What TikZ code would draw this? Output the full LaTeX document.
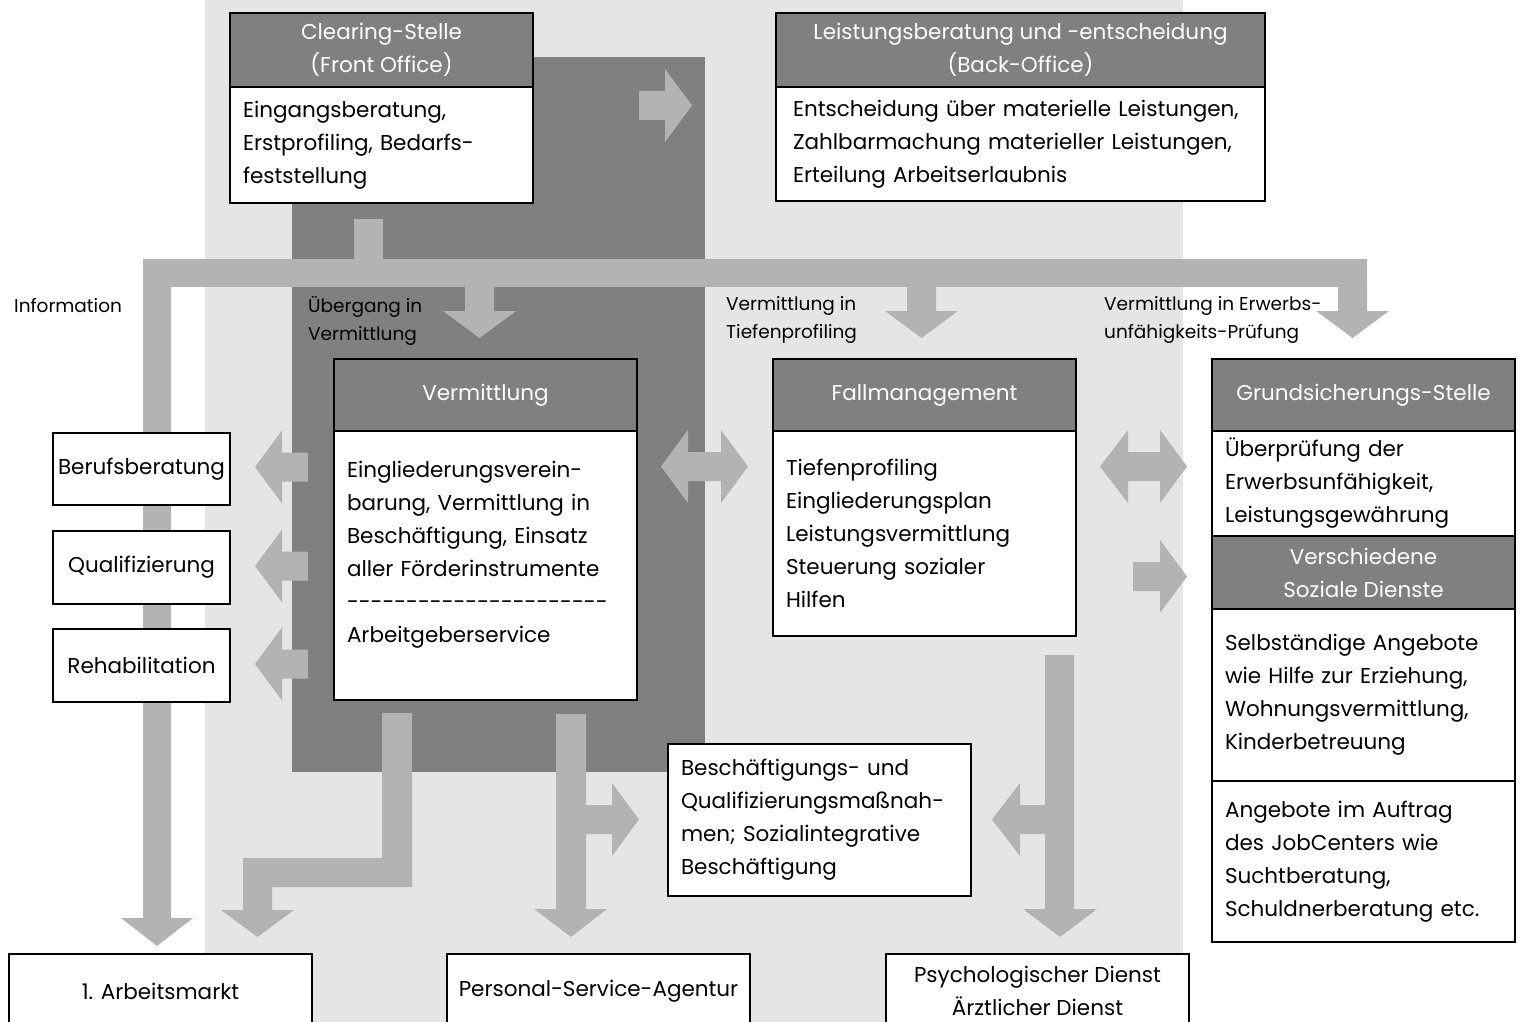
\documentclass[tikz,border=0pt]{standalone}
\usepackage{fontspec}
\setmainfont{Poppins}
\usepackage{tikz}
\definecolor{lightbg}{HTML}{E5E5E5}
\definecolor{darkbg}{HTML}{808080}
\definecolor{arrowgray}{HTML}{B3B3B3}
\tikzset{
        hdr/.style = {draw, fill=darkbg, text=white, line width=2pt,
            anchor=north west, inner sep=0pt, align=center,
            minimum width=303pt,
            font=\fontsize{21.5}{33}\selectfont},
        body/.style = {draw, fill=white, line width=2pt,
            anchor=north west, inner xsep=13pt, inner ysep=0pt, align=left,
            font=\fontsize{21.5}{33}\selectfont},
        plain/.style = {draw, fill=white, line width=2pt,
            anchor=north west, inner sep=0pt, align=center,
            font=\fontsize{21.5}{33}\selectfont},
        lbl/.style = {anchor=north west, inner sep=0pt, align=left,
            font=\fontsize{18.5}{28}\selectfont},
        fat/.style = {fill=arrowgray},
    }

\begin{document}
\begin{tikzpicture}[x=1pt,y=1pt,yscale=-1,xscale=1]
\useasboundingbox (0,0) rectangle (1520,1022);

%Background areas
\fill[lightbg] (205,0) rectangle (1183,1022);
\fill[darkbg] (292,57) rectangle (705,772);

%Block Arrow: front office to back office
\fill[fat] (639,91) -- (665,91) -- (665,69) -- (692,105.5) -- (665,142) -- (665,120) -- (639,120) -- cycle;

%Block Arrows: distribution bar
\fill[fat] (354,219) rectangle (383,287);
\fill[fat] (143,259) rectangle (1367,287);
\fill[fat] (143,259) -- (171,259) -- (171,918) -- (193,918) -- (157,946) -- (121,918) -- (143,918) -- cycle;
\fill[fat] (465,287) -- (494,287) -- (494,311) -- (516,311) -- (479.5,338) -- (443,311) -- (465,311) -- cycle;
\fill[fat] (907,287) -- (936,287) -- (936,311) -- (958,311) -- (921.5,338) -- (885,311) -- (907,311) -- cycle;
\fill[fat] (1338,287) -- (1367,287) -- (1367,311) -- (1389,311) -- (1352.5,338) -- (1316,311) -- (1338,311) -- cycle;

%Block Arrows: to the left boxes
\foreach \yc in {467,566,664}
    \fill[fat] (308,\yc-14.5) -- (282,\yc-14.5) -- (282,\yc-36.5) -- (255,\yc) -- (282,\yc+36.5) -- (282,\yc+14.5) -- (308,\yc+14.5) -- cycle;

%Double Arrows
\fill[fat] (661,466.5) -- (688,430) -- (688,452) -- (721,452) -- (721,430) -- (748,466.5) -- (721,503) -- (721,481) -- (688,481) -- (688,503) -- cycle;
\fill[fat] (1100,466.5) -- (1128,430) -- (1128,452) -- (1160,452) -- (1160,430) -- (1187,466.5) -- (1160,503) -- (1160,481) -- (1128,481) -- (1128,503) -- cycle;
%Block Arrow: to social services
\fill[fat] (1133,562) -- (1160,562) -- (1160,540) -- (1187,576.5) -- (1160,613) -- (1160,591) -- (1133,591) -- cycle;

%Block Arrows: bottom
\fill[fat] (382,713) -- (412,713) -- (412,887) -- (272,887) -- (272,910) -- (294,910) -- (257.5,937) -- (221,910) -- (243,910) -- (243,858) -- (382,858) -- cycle;
\fill[fat] (556,714) -- (586,714) -- (586,805) -- (612,805) -- (612,783) -- (639,819.5) -- (612,856) -- (612,834) -- (586,834) -- (586,909) -- (607,909) -- (571,937) -- (534,909) -- (556,909) -- cycle;
\fill[fat] (1045,655) -- (1074,655) -- (1074,909) -- (1097,909) -- (1060,937) -- (1023,909) -- (1045,909) -- (1045,834) -- (1020,834) -- (1020,856) -- (992,819.5) -- (1020,783) -- (1020,805) -- (1045,805) -- cycle;

% Text Node
\node[lbl] (info) at (14,298) {Information};
\node[lbl] (ueber) at (308,296) {Übergang in\\Vermittlung};
\node[lbl] (tiefe) at (726,296) {Vermittlung in\\Tiefenprofiling};
\node[lbl] (erwerb) at (1104,296) {Vermittlung in Erwerbs-\\unfähigkeits-Prüfung};

%Front office
\node[hdr, minimum height=74pt] (clearh) at (229,12) {Clearing-Stelle\\(Front Office)};
\node[body, minimum width=303pt, text width=277pt, minimum height=116pt] (clearb) at (229,86) {Eingangsberatung,\\Erstprofiling, Bedarfs-\\feststellung};
%Back office
\node[hdr, minimum width=489pt, minimum height=74pt] (leisth) at (775,12) {Leistungsberatung und -entscheidung\\(Back-Office)};
\node[body, minimum width=489pt, text width=455pt, inner xsep=17pt, minimum height=114pt] (leistb) at (775,86) {Entscheidung über materielle Leistungen,\\Zahlbarmachung materieller Leistungen,\\Erteilung Arbeitserlaubnis};

%Vermittlung
\node[hdr, minimum height=72pt] (vermh) at (333,358) {Vermittlung};
\node[body, minimum width=303pt, text width=277pt, minimum height=269pt] (vermb) at (333,430) {Eingliederungsverein-\\barung, Vermittlung in\\Beschäftigung, Einsatz\\aller Förderinstrumente\\-{}-{}-{}-{}-{}-{}-{}-{}-{}-{}-{}-{}-{}-{}-{}-{}-{}-{}-{}-{}-{}-\\Arbeitgeberservice\\[-6pt]\mbox{}};

%Fallmanagement
\node[hdr, minimum height=72pt] (fallh) at (772,358) {Fallmanagement};
\node[body, minimum width=303pt, text width=277pt, minimum height=205pt] (fallb) at (772,430) {Tiefenprofiling\\Eingliederungsplan\\Leistungsvermittlung\\Steuerung sozialer\\Hilfen};

%Grundsicherung
\node[hdr, minimum height=72pt] (grundh) at (1211,358) {Grundsicherungs-Stelle};
\node[body, minimum width=303pt, text width=277pt, minimum height=105pt] (grundb) at (1211,430) {Überprüfung der\\Erwerbsunfähigkeit,\\Leistungsgewährung};
\node[hdr, minimum height=73pt] (diensth) at (1211,535) {Verschiedene\\Soziale Dienste};
\node[body, minimum width=303pt, text width=277pt, minimum height=172pt] (dienstb) at (1211,608) {Selbständige Angebote\\wie Hilfe zur Erziehung,\\Wohnungsvermittlung,\\Kinderbetreuung};
\node[body, minimum width=303pt, text width=277pt, minimum height=161pt] (auftrag) at (1211,780) {Angebote im Auftrag\\des JobCenters wie\\Suchtberatung,\\Schuldnerberatung etc.};

%Left boxes
\node[plain, minimum width=177pt, minimum height=72pt] (beruf) at (52,432) {Berufsberatung};
\node[plain, minimum width=177pt, minimum height=73pt] (quali) at (52,530) {Qualifizierung};
\node[plain, minimum width=177pt, minimum height=73pt] (reha) at (52,628) {Rehabilitation};

%Measures
\node[body, minimum width=303pt, text width=277pt, minimum height=152pt] (besch) at (667,743) {Beschäftigungs- und\\Qualifizierungsmaßnah-\\men; Sozialintegrative\\Beschäftigung};

%Bottom boxes
\node[plain, minimum width=303pt, minimum height=74pt] (arbeit) at (8,953) {1. Arbeitsmarkt};
\node[plain, minimum width=303pt, minimum height=74pt] (psa) at (446,953) {Personal-Service-Agentur};
\node[plain, minimum width=303pt, minimum height=74pt] (psych) at (885,953) {Psychologischer Dienst\\Ärztlicher Dienst};

\end{tikzpicture}
\end{document}
